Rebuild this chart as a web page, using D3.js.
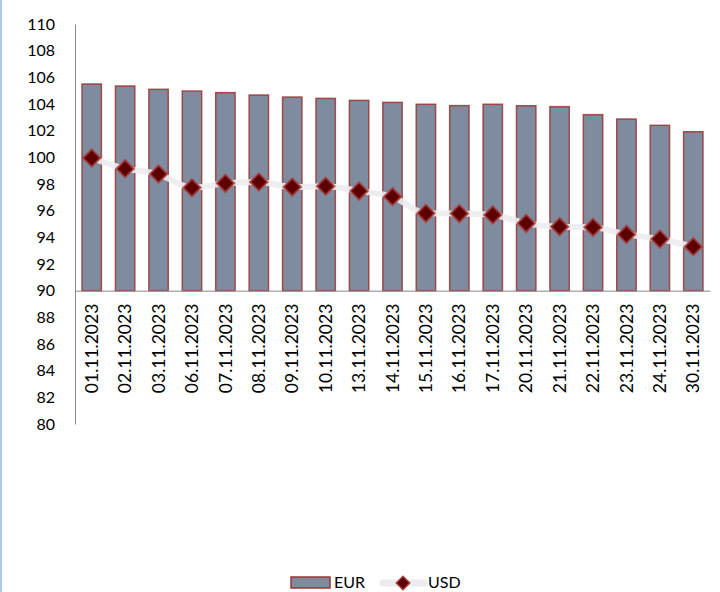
<!DOCTYPE html>
<html>
<head>
<meta charset="utf-8">
<script src="https://cdn.jsdelivr.net/npm/d3@7/dist/d3.min.js"></script>
<style>
html,body{margin:0;padding:0;background:#fff;}
svg{display:block;}
</style>
</head>
<body>
<svg id="chart" width="720" height="592"></svg>
<script>
const categories = ["01.11.2023","02.11.2023","03.11.2023","06.11.2023","07.11.2023","08.11.2023","09.11.2023","10.11.2023","13.11.2023","14.11.2023","15.11.2023","16.11.2023","17.11.2023","20.11.2023","21.11.2023","22.11.2023","23.11.2023","24.11.2023","30.11.2023"];
const eurValues = [105.5,105.35,105.1,104.97,104.85,104.67,104.52,104.42,104.27,104.12,103.98,103.88,103.98,103.87,103.8,103.2,102.87,102.4,101.92];
const usdValues = [99.95,99.15,98.75,97.72,98.05,98.15,97.77,97.83,97.47,97.05,95.8,95.78,95.68,95.05,94.8,94.75,94.22,93.87,93.3];
const yTicks = [80,82,84,86,88,90,92,94,96,98,100,102,104,106,108,110];
const seriesNames = ["EUR","USD"];

const svg = d3.select("#chart");
const font = "Lato, 'Open Sans', sans-serif";

// left light-blue border
svg.append("rect").attr("x",0).attr("y",0).attr("width",2).attr("height",592).attr("fill","#a9c9f0");

const pLeft = 75, pRight = 710, pTop = 24, pBottom = 424;
const y = d3.scaleLinear().domain([80,110]).range([pBottom, pTop]);
const x = d3.scaleBand().domain(categories).range([pLeft, pRight]).paddingInner(0.42).paddingOuter(0.21);

// y axis
const yAxis = d3.axisLeft(y).tickValues(yTicks).tickSize(0).tickPadding(20);
const gy = svg.append("g").attr("transform",`translate(${pLeft},0)`).call(yAxis);
gy.select(".domain").attr("stroke","#888").attr("stroke-width",1);
gy.selectAll("text").attr("font-family",font).attr("font-size","16px").attr("fill","#000");

// bars
svg.append("g").selectAll("rect").data(eurValues).join("rect")
  .attr("x",(d,i)=>x(categories[i]))
  .attr("width",x.bandwidth())
  .attr("y",d=>y(d))
  .attr("height",d=>y(90)-y(d))
  .attr("fill","#7f8c9f")
  .attr("stroke","#953735")
  .attr("stroke-opacity",0.85)
  .attr("stroke-width",1.5);

// x axis at 90
const xAxis = d3.axisBottom(x).tickSize(0).tickPadding(0);
const gx = svg.append("g").attr("transform",`translate(0,${y(90)})`).call(xAxis);
gx.select(".domain").attr("stroke","#888").attr("stroke-width",1);
gx.selectAll("text")
  .attr("font-family",font).attr("font-size","17.5px").attr("fill","#000")
  .attr("transform","rotate(-90)")
  .attr("text-anchor","end")
  .attr("x",-13).attr("y",0).attr("dy","0.35em");

// USD line
const cx = (i)=>x(categories[i]) + x.bandwidth()/2;
const line = d3.line().x((d,i)=>cx(i)).y(d=>y(d)).curve(d3.curveMonotoneX);
svg.append("path").datum(usdValues).attr("d",line)
  .attr("fill","none").attr("stroke","#ececf0").attr("stroke-opacity",0.9)
  .attr("stroke-width",6).attr("stroke-linecap","round").attr("stroke-linejoin","round");

const diamond = d3.symbol().type(d3.symbolSquare).size(150);
svg.append("g").selectAll("path").data(usdValues).join("path")
  .attr("d",diamond)
  .attr("transform",(d,i)=>`translate(${cx(i)},${y(d)}) rotate(45)`)
  .attr("fill","#5c0000")
  .attr("stroke","#a83c3c")
  .attr("stroke-opacity",0.8)
  .attr("stroke-width",2);

// legend
const lg = svg.append("g");
lg.append("rect").attr("x",291).attr("y",577).attr("width",39).attr("height",11)
  .attr("fill","#7f8c9f").attr("stroke","#953735").attr("stroke-width",1.5);
lg.append("text").attr("x",334).attr("y",588).text(seriesNames[0])
  .attr("font-family",font).attr("font-size","16px").attr("fill","#000");
lg.append("line").attr("x1",383).attr("x2",424).attr("y1",583).attr("y2",583)
  .attr("stroke","#ececf0").attr("stroke-width",7).attr("stroke-linecap","round");
lg.append("path").attr("d",d3.symbol().type(d3.symbolSquare).size(90))
  .attr("transform","translate(403,583) rotate(45)")
  .attr("fill","#5c0000").attr("stroke","#a83c3c").attr("stroke-width",1.5);
lg.append("text").attr("x",428).attr("y",588).text(seriesNames[1])
  .attr("font-family",font).attr("font-size","16px").attr("fill","#000");
</script>
</body>
</html>
